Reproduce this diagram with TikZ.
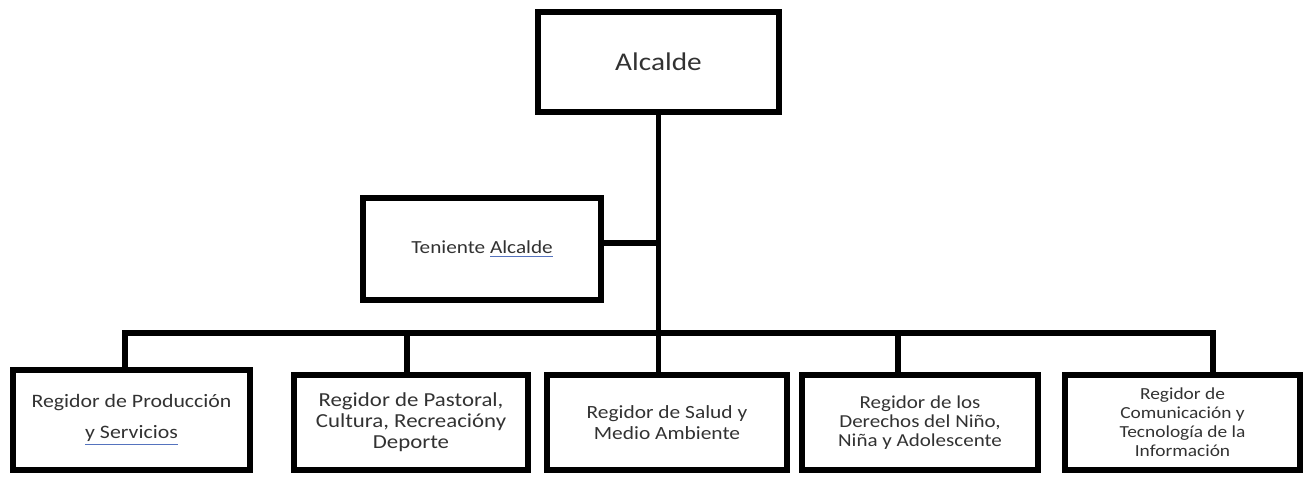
\documentclass[tikz,border=0pt]{standalone}
\usepackage{fontspec}
\setmainfont[FakeStretch=1.15]{Carlito}
\usepackage{tikz}
\usetikzlibrary{positioning}
\definecolor{txtgray}{RGB}{50,50,50}
\definecolor{spellblue}{RGB}{85,115,190}
\newcommand{\spellmark}[1]{{\color{spellblue}\underline{\textcolor{txtgray}{#1}}}}
\tikzset{cargo/.style={draw=black,line width=3.3pt,text=txtgray,align=center,inner sep=0pt}}
\tikzset{enlace/.style={draw=black,line width=3.3pt}}

\begin{document}
\begin{tikzpicture}
        \useasboundingbox (0,0) rectangle (26.16,-9.52);
        \node [cargo,minimum width=4.82cm,minimum height=2cm,font=\fontsize{14.5}{16}\selectfont] (alcalde) at (13.17,-1.24) {Alcalde};
        \node [cargo,minimum width=4.76cm,minimum height=2.04cm,font=\fontsize{10.5}{12}\selectfont] (teniente) at (9.64,-4.98) {Teniente \spellmark{Alcalde}};
        \node [cargo,minimum width=4.74cm,minimum height=2cm,font=\fontsize{10.8}{12}\selectfont] (prod) at (2.63,-8.4) {Regidor de Producción\\[0.2cm]\spellmark{y Servicios}};
        \node [cargo,minimum width=4.68cm,minimum height=1.9cm,font=\fontsize{11.3}{12}\selectfont] (past) at (8.22,-8.45) {Regidor de Pastoral,\\Cultura, Recreacióny\\Deporte};
        \node [cargo,minimum width=4.8cm,minimum height=1.9cm,font=\fontsize{10.6}{11.5}\selectfont] (salud) at (13.34,-8.45) {Regidor de Salud y\\Medio Ambiente};
        \node [cargo,minimum width=4.72cm,minimum height=1.9cm,font=\fontsize{10.4}{10.8}\selectfont] (nino) at (18.4,-8.45) {Regidor de los\\Derechos del Niño,\\Niña y Adolescente};
        \node [cargo,minimum width=4.7cm,minimum height=1.9cm,font=\fontsize{9.6}{10.8}\selectfont] (tic) at (23.65,-8.45) {Regidor de\\Comunicación y\\Tecnología de la\\Información};
        \coordinate (d1) at (2.5,-6.66);
        \coordinate (d2) at (8.14,-6.66);
        \coordinate (d3) at (alcalde.south |- d1);
        \coordinate (d4) at (17.96,-6.66);
        \coordinate (d5) at (24.26,-6.66);
        \draw [enlace] (alcalde.south) -- (d3);
        \draw [enlace] ([yshift=0.12cm]teniente.east) -- ([yshift=0.12cm]teniente.east -| alcalde.south);
        \draw [enlace] (d1 |- prod.north) -- (d1) -- (d5) -- (d5 |- tic.north);
        \draw [enlace] (d2) -- (d2 |- past.north);
        \draw [enlace] (d3) -- (d3 |- salud.north);
        \draw [enlace] (d4) -- (d4 |- nino.north);
\end{tikzpicture}
\end{document}
